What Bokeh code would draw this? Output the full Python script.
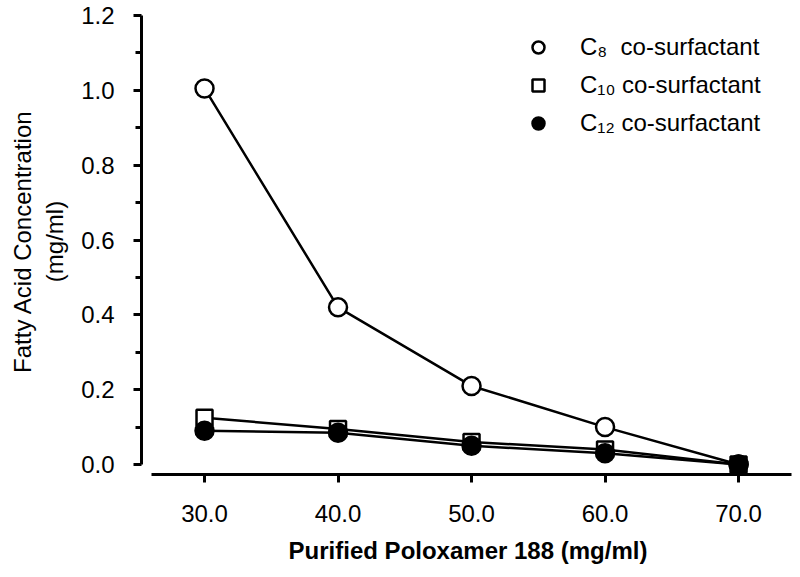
from bokeh.plotting import figure
from bokeh.models import Range1d, FixedTicker, PrintfTickFormatter, Legend, LegendItem
from bokeh.embed import file_html
from bokeh.resources import INLINE

poloxamer = [30.0, 40.0, 50.0, 60.0, 70.0]
c8 = [1.005, 0.42, 0.21, 0.10, 0.0]
c10 = [0.125, 0.095, 0.06, 0.04, 0.0]
c12 = [0.09, 0.085, 0.05, 0.03, 0.0]
x_ticks = [30, 40, 50, 60, 70]
y_ticks = [0.0, 0.2, 0.4, 0.6, 0.8, 1.0, 1.2]
y_minor = [0.1, 0.3, 0.5, 0.7, 0.9, 1.1]

FONT = "Liberation Sans"

p = figure(width=798, height=570, output_backend="svg", toolbar_location=None,
           x_range=Range1d(25.28, 74.19), y_range=Range1d(-0.0267, 1.2187),
           min_border_left=141, min_border_right=4, min_border_top=8, min_border_bottom=96)
p.outline_line_color = None
p.grid.visible = False

p.line(poloxamer, c8, line_color="black", line_width=2.5)
p.line(poloxamer, c10, line_color="black", line_width=2.5)
p.line(poloxamer, c12, line_color="black", line_width=2.5)
r8 = p.scatter(poloxamer, c8, marker="circle", size=18, fill_color="white", line_color="black", line_width=2.5)
r10 = p.scatter(poloxamer, c10, marker="square", size=16, fill_color="white", line_color="black", line_width=2.5)
r12 = p.scatter(poloxamer, c12, marker="circle", size=18, fill_color="black", line_color="black", line_width=2.5)

xa = p.xaxis[0]
xa.ticker = FixedTicker(ticks=x_ticks, minor_ticks=[])
xa.formatter = PrintfTickFormatter(format="%.1f")
xa.bounds = (26, 74)
xa.axis_line_width = 3
xa.axis_line_color = "black"
xa.major_tick_line_width = 3
xa.major_tick_out = 8
xa.major_tick_in = 0
xa.minor_tick_out = 0
xa.major_label_text_font = FONT
xa.major_label_text_font_size = "24px"
xa.major_label_text_color = "black"
xa.major_label_standoff = 22
xa.axis_label = "Purified Poloxamer 188 (mg/ml)"
xa.axis_label_text_font = FONT
xa.axis_label_text_font_style = "bold"
xa.axis_label_text_font_size = "24px"
xa.axis_label_text_color = "black"
xa.axis_label_standoff = 12

ya = p.yaxis[0]
ya.ticker = FixedTicker(ticks=y_ticks, minor_ticks=y_minor)
ya.formatter = PrintfTickFormatter(format="%.1f")
ya.bounds = (0, 1.2)
ya.axis_line_width = 3
ya.axis_line_color = "black"
ya.major_tick_line_width = 3
ya.minor_tick_line_width = 3
ya.major_tick_out = 8
ya.major_tick_in = 0
ya.minor_tick_out = 6
ya.minor_tick_in = 0
ya.major_label_text_font = FONT
ya.major_label_text_font_size = "24px"
ya.major_label_text_color = "black"
ya.major_label_standoff = 19
ya.axis_label = "Fatty Acid Concentration\n(mg/ml)"
ya.axis_label_text_font = FONT
ya.axis_label_text_font_style = "normal"
ya.axis_label_text_font_size = "24px"
ya.axis_label_text_color = "black"
ya.axis_label_standoff = 10

legend = Legend(items=[
    LegendItem(label="C\u2088  co-surfactant", renderers=[r8]),
    LegendItem(label="C\u2081\u2080 co-surfactant", renderers=[r10]),
    LegendItem(label="C\u2081\u2082 co-surfactant", renderers=[r12]),
], location=(382, 336), padding=0, margin=0, spacing=8,
   glyph_width=30, glyph_height=30, label_height=30, label_standoff=27,
   label_text_font=FONT, label_text_font_size="24px", label_text_color="black",
   border_line_color=None, background_fill_alpha=0)
p.add_layout(legend)

open("out.html", "w").write(file_html(p, INLINE))
